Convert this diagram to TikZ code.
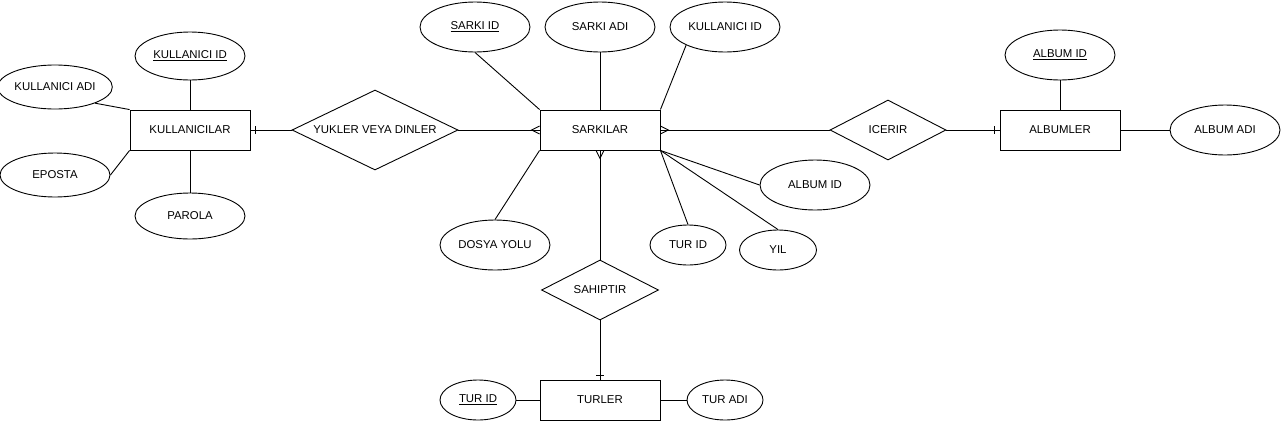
\documentclass[tikz,border=0pt]{standalone}
\usepackage{fontspec}
\setmainfont{Liberation Sans}
\usetikzlibrary{shapes.geometric,calc}
\begin{document}
\begin{tikzpicture}[x=1pt,y=-1pt,
  every node/.style={font=\fontsize{11.4}{13}\selectfont},
  ent/.style={draw, rectangle, minimum width=120pt, minimum height=40pt, inner sep=0pt},
  attr/.style={draw, ellipse, inner sep=0pt, minimum width=110pt, minimum height=50pt},
  sattr/.style={draw, ellipse, inner sep=0pt, minimum width=76pt, minimum height=40pt},
  rel/.style={draw, diamond, inner sep=0pt},
  every path/.style={line width=0.9pt}]
\useasboundingbox (0,0) rectangle (1281,421);
% entities
\node[ent] (kul) at (190,130) {KULLANICILAR};
\node[ent] (sark) at (600,130) {SARKILAR};
\node[ent] (alb) at (1060,130) {ALBUMLER};
\node[ent] (tur) at (600,400) {TURLER};
% relationships
\node[rel, aspect=2.07, minimum width=166pt, minimum height=80pt] (yvd) at (375,130) {YUKLER VEYA DINLER};
\node[rel, aspect=1.95, minimum width=116pt, minimum height=60pt] (ic) at (888,130) {ICERIR};
\node[rel, aspect=1.95, minimum width=117pt, minimum height=60pt] (sah) at (600,290) {SAHIPTIR};
% KULLANICILAR attributes
\node[attr, minimum height=48pt] (kid) at (190,56) {\underline{KULLANICI ID}};
\node[attr, minimum height=44pt] (kadi) at (55,87) {KULLANICI ADI};
\node[attr, minimum height=44pt] (ep) at (55,175) {EPOSTA};
\node[attr, minimum height=46pt] (par) at (190,216) {PAROLA};
% SARKILAR attributes
\node[attr] (sid) at (475,27) {\underline{SARKI ID}};
\node[attr] (sadi) at (600,27) {SARKI ADI};
\node[attr] (skid) at (725,27) {KULLANICI ID};
\node[attr] (dy) at (495,245) {DOSYA YOLU};
\node[attr] (said) at (815,185) {ALBUM ID};
\node[sattr] (stid) at (688,245) {TUR ID};
\node[sattr, minimum width=77pt] (yil) at (778,250) {YIL};
% ALBUMLER attributes
\node[attr] (aid) at (1060,55) {\underline{ALBUM ID}};
\node[attr] (aadi) at (1225,130) {ALBUM ADI};
% TURLER attributes
\node[sattr] (tid) at (478,400) {\underline{TUR ID}};
\node[sattr] (tadi) at (725,400) {TUR ADI};
% attribute connectors
\draw (kid) -- (kul);
\draw (kadi.-22) -- (kul.north west);
\draw (ep.east) -- (kul.south west);
\draw (par) -- (kul);
\draw (sid.south) -- (sark.north west);
\draw (sadi) -- (sark);
\draw (skid.205) -- (sark.north east);
\draw (dy.north) -- (sark.south west);
\draw (sark.south east) -- (said.west);
\draw (sark.south east) -- (stid.north);
\draw (sark.south east) -- (yil.north);
\draw (aid) -- (alb);
\draw (aadi) -- (alb);
\draw (tid) -- (tur);
\draw (tadi) -- (tur);
% relationship connectors
\draw (kul.east) -- (yvd.west);
\draw (yvd.east) -- (sark.west);
\draw (sark.east) -- (ic.west);
\draw (ic.east) -- (alb.west);
\draw (sark.south) -- (sah.north);
\draw (sah.south) -- (tur.north);
% one marks
\draw ($(kul.east)+(5,-4)$) -- ($(kul.east)+(5,4)$);
\draw ($(alb.west)+(-5,-4)$) -- ($(alb.west)+(-5,4)$);
\draw ($(tur.north)+(-4,-4)$) -- ($(tur.north)+(4,-4)$);
% many marks
\draw ($(sark.west)+(0,-4)$) -- ($(sark.west)+(-8,0)$) -- ($(sark.west)+(0,4)$);
\draw ($(sark.east)+(0,-4)$) -- ($(sark.east)+(8,0)$) -- ($(sark.east)+(0,4)$);
\draw ($(sark.south)+(-4,0)$) -- ($(sark.south)+(0,8)$) -- ($(sark.south)+(4,0)$);
\end{tikzpicture}
\end{document}
